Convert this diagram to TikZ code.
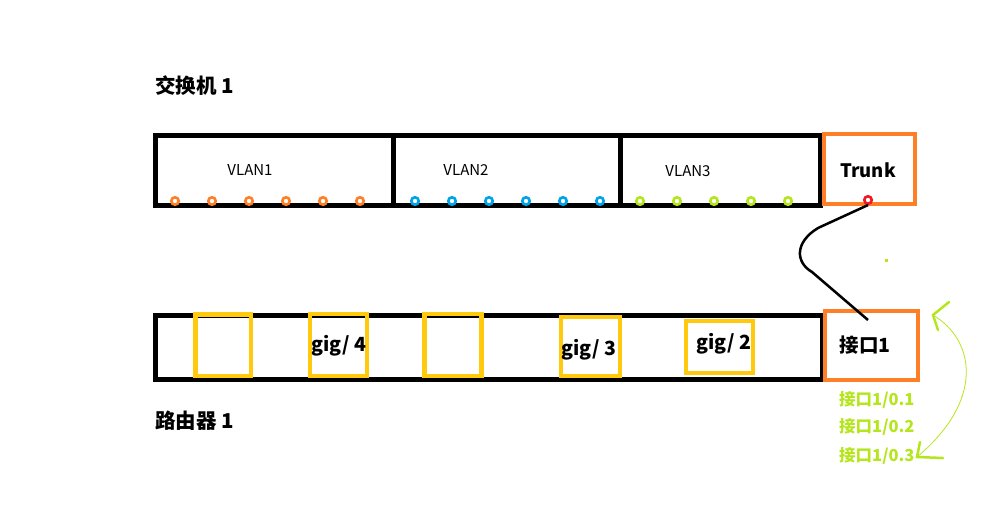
\documentclass[tikz,border=0pt]{standalone}
\usepackage{fontspec}
\setmainfont{Noto Sans CJK SC}

\definecolor{porange}{RGB}{255,127,39}
\definecolor{pgold}{RGB}{255,201,14}
\definecolor{pblue}{RGB}{0,162,232}
\definecolor{plime}{RGB}{181,230,29}
\definecolor{pred}{RGB}{237,28,36}

\begin{document}
\begin{tikzpicture}[x=1pt,y=-1pt]

\def\wide{5pt}
\def\portsz{7.5pt}

\tikzset{frame/.style = {draw, line width=\wide, inner sep=0pt}}
\tikzset{obox/.style = {draw=porange, line width=4.5pt, inner sep=0pt}}
\tikzset{ybox/.style = {draw=pgold, line width=4.5pt, inner sep=0pt}}
\tikzset{port/.style = {draw=#1, circle, fill=white, line width=2.6pt, minimum size=\portsz, inner sep=0pt}}
\tikzset{title/.style = {font=\bfseries\fontsize{20.5}{22}\selectfont, anchor=west, inner sep=0pt}}
\tikzset{vlan/.style = {font=\fontsize{15}{17}\selectfont, inner sep=0pt}}
\tikzset{gig/.style = {font=\bfseries\fontsize{19.5}{21}\selectfont, inner sep=0pt}}
\tikzset{sub/.style = {text=plime, font=\bfseries\fontsize{16.5}{18}\selectfont, anchor=west, inner sep=0pt}}

\useasboundingbox (0,0) rectangle (985,512);

% switch
\node[title] (swname) at (155,86) {交换机 1};
\node[frame, minimum width=665pt, minimum height=70pt] (sw) at (487.5,170) {};
\draw[line width=\wide] (393,135) -- (393,205);
\draw[line width=\wide] (620,135) -- (620,205);
\node[vlan] (v1) at (250,170) {VLAN1};
\node[vlan] (v2) at (466,170) {VLAN2};
\node[vlan] (v3) at (688,171) {VLAN3};

\foreach \x in {175,212,249,286,323,360}
  \node[port=porange] at (\x,201) {};
\foreach \x in {415,452,489,526,563,600}
  \node[port=pblue] at (\x,201) {};
\foreach \x in {640,677,714,751,788}
  \node[port=plime] at (\x,201) {};

\node[obox, minimum width=91pt, minimum height=70pt] (trunk) at (869.5,169) {};
\node[font=\bfseries\fontsize{18.5}{20}\selectfont, inner sep=0pt] (trunktxt) at (868,170) {Trunk};
\node[port=pred] (tp) at (868,200) {};

% router
\node[title] (rtname) at (155,421) {路由器 1};
\node[frame, minimum width=667pt, minimum height=64pt] (rt) at (488.5,347) {};

\node[ybox, minimum width=55.5pt, minimum height=61.5pt] (g1) at (223.25,345.25) {};
\node[ybox, minimum width=57pt, minimum height=62pt] (g2) at (338.5,345) {};
\node[ybox, minimum width=57pt, minimum height=62pt] (g3) at (453,345) {};
\node[ybox, minimum width=59pt, minimum height=59pt] (g4) at (590.5,346.5) {};
\node[ybox, minimum width=67pt, minimum height=52pt] (g5) at (719.5,347) {};
\node[gig] at (339,346) {gig/ 4};
\node[gig] at (589,350) {gig/ 3};
\node[gig] at (724,344) {gig/ 2};

\node[obox, minimum width=93pt, minimum height=69pt] (if1) at (871.5,345.5) {};
\node[font=\bfseries\fontsize{19.5}{21}\selectfont, inner sep=0pt] (if1txt) at (865,345) {接口1};
\coordinate (rp) at (868,320);

% cable
\draw[line width=2.5pt] (tp.south) -- (818,228) .. controls (795,242) and (795,262) .. (812,272) -- (rp);
\fill[plime] (884.5,258.5) rectangle (887.5,261.5);

% sub interfaces
\node[sub] (s1) at (839,400) {接口1/0.1};
\node[sub] (s2) at (839,427) {接口1/0.2};
\node[sub] (s3) at (839,456) {接口1/0.3};

\coordinate (atop) at (933,315);
\coordinate (abot) at (917,457);
\draw[plime, line width=0.8pt] (atop) .. controls (975,340) and (985,400) .. (abot);
\draw[plime, line width=2.5pt, line cap=round] (949,302) -- (atop) -- (938,330);
\draw[plime, line width=2.5pt, line cap=round] (943,458) -- (abot) -- (920,442);

\end{tikzpicture}
\end{document}
